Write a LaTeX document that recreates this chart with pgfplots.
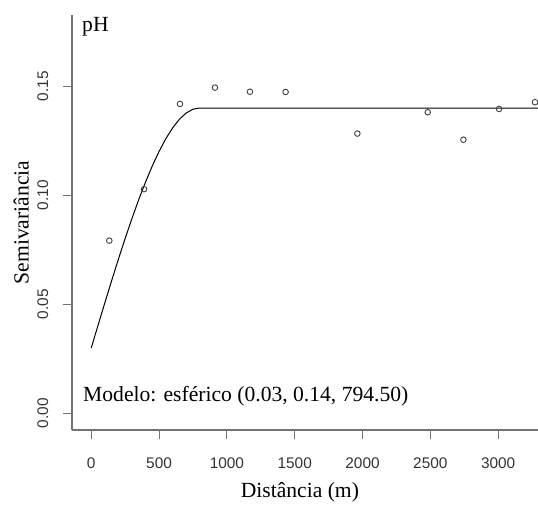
\documentclass[border=0pt]{standalone}
\usepackage{fontspec}
\setmainfont{Liberation Serif}
\newfontfamily\ticksfont{Liberation Sans}
\usepackage{pgfplots}
\pgfplotsset{compat=1.18}
\newcommand{\bigfont}{\fontsize{21.6bp}{26bp}\selectfont}
\begin{document}
\begin{tikzpicture}
\useasboundingbox (0,0) rectangle (538bp,506bp);
\begin{axis}[
  at={(72bp,76bp)}, anchor=south west,
  scale only axis, width=466bp, height=415bp,
  xmin=-142, xmax=3294, ymin=-0.00766, ymax=0.1827,
  axis x line=bottom, axis y line=left,
  axis line style={-, black!55, line width=1.2bp},
  xtick={0,500,1000,1500,2000,2500,3000},
  ytick={0,0.05,0.10,0.15},
  tick align=outside, major tick length=9bp,
  tick style={black!55, line width=1bp},
  scaled ticks=false,
  /pgf/number format/assume math mode=true,
  /pgf/number format/1000 sep={},
  tick label style={font=\ticksfont\fontsize{15.4bp}{18bp}\selectfont, text=black!80},
  yticklabel style={/pgf/number format/fixed, /pgf/number format/fixed zerofill, /pgf/number format/precision=2, rotate=90, anchor=south, inner sep=0pt},
  xticklabel style={anchor=north, inner sep=0pt},
  xticklabel shift=18.5bp, yticklabel shift=14.5bp,
  xlabel={Distância (m)}, ylabel={Semivariância},
  xlabel style={at={(axis description cs:0.489,0)}, anchor=base, yshift=-67bp, font=\bigfont, inner sep=0pt},
  ylabel style={at={(axis description cs:0,0.5)}, anchor=base, yshift=43.5bp, font=\bigfont, inner sep=0pt},
  clip=false
]
\addplot[black, line width=1bp, no marks] coordinates {
(0,0.03000) (50,0.04037) (100,0.05066) (150,0.06078) (200,0.07066)
(250,0.08021) (300,0.08934) (350,0.09799) (400,0.10605) (450,0.11346)
(500,0.12013) (550,0.12598) (600,0.13092) (650,0.13487) (700,0.13776)
(750,0.13949) (794.5,0.14000) (3294,0.14000)
};
\addplot[only marks, mark=o, mark size=2.8bp, black!75, line width=0.9bp] coordinates {
(133,0.0792) (389,0.1028) (654,0.1419) (912,0.1494) (1170,0.1475)
(1433,0.1474) (1962,0.1283) (2481,0.1381) (2744,0.1255) (3007,0.1396)
(3272,0.1427)
};
\node[anchor=base west, font=\bigfont, inner sep=0pt] at (axis description cs:0.0215,0.961) {pH};
\node[anchor=base west, font=\bigfont, inner sep=0pt] at (axis description cs:0.0236,0.0687) {Modelo: esférico (0.03, 0.14, 794.50)};
\end{axis}
\end{tikzpicture}
\end{document}
